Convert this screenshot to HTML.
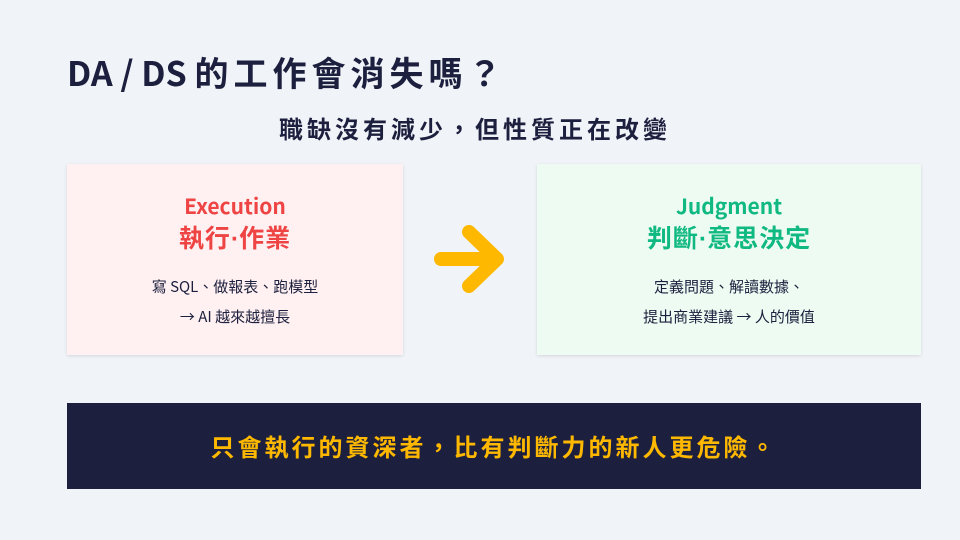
<!DOCTYPE html>
<html><head><meta charset="utf-8"><style>
body{margin:0;width:960px;height:540px;background:#f0f3f8;position:relative;overflow:hidden;font-family:"Noto Sans CJK TC","Liberation Sans",sans-serif;}
.a{position:absolute}
.t{left:67px;top:47px;font-size:34px;font-weight:bold;color:#1c1f3d;letter-spacing:5px;white-space:nowrap}
.t .l{letter-spacing:0}
.s{left:-5px;width:960px;top:110px;text-align:center;font-size:24px;font-weight:bold;color:#1c1f3d;letter-spacing:4px;white-space:nowrap}
.box{top:164px;height:191px;box-shadow:0 1px 3px rgba(0,0,0,0.12);text-align:center;}
.en{margin-top:28px;font-size:21px;font-weight:bold;line-height:28px}
.zh{font-size:25px;font-weight:bold;line-height:34px;letter-spacing:1px}
.dot{font-family:"Liberation Sans",sans-serif;letter-spacing:0}
.d{margin-top:16px;font-size:15px;line-height:30px;color:#1c1f3d}
.bar{left:67px;top:403px;width:854px;height:86px;background:#1c1f3d;color:#ffb800;font-size:24px;font-weight:bold;text-align:center;line-height:86px;letter-spacing:3px;white-space:nowrap}
</style></head><body>
<div class="a t"><span class="l">DA / DS </span>的工作會消失嗎？</div>
<div class="a s">職缺沒有減少，但性質正在改變</div>
<div class="a box" style="left:67px;width:336px;background:#fff1f1">
<div class="en" style="color:#ef4444">Execution</div>
<div class="zh" style="color:#ef4444">執行<span class="dot">·</span>作業</div>
<div class="d">寫 SQL、做報表、跑模型<br>→ AI 越來越擅長</div>
</div>
<svg class="a" style="left:430px;top:220px" width="84" height="80"><g stroke="#ffb800" stroke-width="14" stroke-linecap="round" stroke-linejoin="round" fill="none"><line x1="11" y1="39" x2="66" y2="39"/><polyline points="39,12 67,39 39,66"/></g></svg>
<div class="a box" style="left:537px;width:384px;background:#edfbf2">
<div class="en" style="color:#10b981">Judgment</div>
<div class="zh" style="color:#10b981">判斷<span class="dot">·</span>意思決定</div>
<div class="d">定義問題、解讀數據、<br>提出商業建議 → 人的價值</div>
</div>
<div class="a bar">只會執行的資深者，比有判斷力的新人更危險。</div>
</body></html>
